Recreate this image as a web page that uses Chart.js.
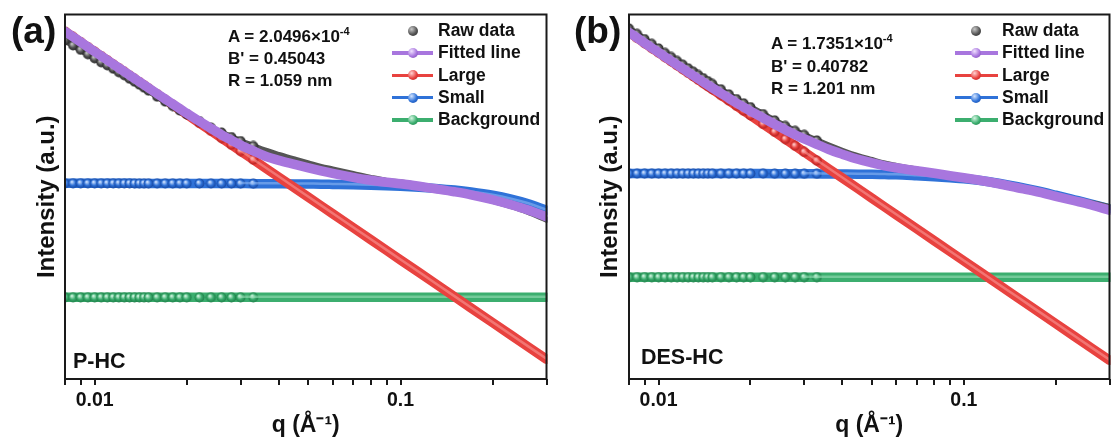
<!DOCTYPE html>
<html>
<head>
<meta charset="utf-8">
<script src="https://cdn.jsdelivr.net/npm/chart.js@4.4.0/dist/chart.umd.min.js"></script>
<style>
  body { margin: 0; background: #fff; width: 1113px; height: 448px; overflow: hidden; position: relative;
         font-family: 'Liberation Sans', Arial, sans-serif; font-weight: bold; color: #111; }
  canvas { position: absolute; top: 0; }
  #chartA { left: 0; }
  #chartB { left: 556px; }
  .t { position: absolute; white-space: nowrap; line-height: 1; }
  .t sup { font-size: 11px; vertical-align: 7px; line-height: 0; }
  .lg { position: absolute; }
  .ball { position: absolute; width: 10px; height: 10px; border-radius: 50%; }
</style>
</head>
<body>
<canvas id="chartA" width="556" height="448"></canvas>
<canvas id="chartB" width="557" height="448"></canvas>

<div class="t" style="left:11px;top:12px;font-size:37px">(a)</div>
<div class="t" style="left:574px;top:12px;font-size:37px">(b)</div>

<div class="t" style="left:228px;top:27.5px;font-size:17px">A = 2.0496×10<sup>-4</sup></div>
<div class="t" style="left:228px;top:49.5px;font-size:17px">B' = 0.45043</div>
<div class="t" style="left:228px;top:71.5px;font-size:17px">R = 1.059 nm</div>

<div class="t" style="left:771px;top:35px;font-size:17px">A = 1.7351×10<sup>-4</sup></div>
<div class="t" style="left:771px;top:57.5px;font-size:17px">B' = 0.40782</div>
<div class="t" style="left:771px;top:80px;font-size:17px">R = 1.201 nm</div>

<div class="t" style="left:73px;top:351px;font-size:21.5px">P-HC</div>
<div class="t" style="left:641px;top:347px;font-size:21.5px">DES-HC</div>

<div id="legends"></div>

<script>
// q (1/Å) sample positions shared by every curve
const qValues = [0.008, 0.0085, 0.009, 0.0095, 0.010, 0.0105, 0.011, 0.0115, 0.012, 0.0125,
  0.013, 0.0135, 0.014, 0.0145, 0.015, 0.016, 0.017, 0.018, 0.019, 0.020,
  0.022, 0.024, 0.026, 0.028, 0.030, 0.033, 0.036, 0.040, 0.045, 0.050,
  0.055, 0.060, 0.070, 0.080, 0.090, 0.100, 0.115, 0.130, 0.150, 0.170,
  0.200, 0.230, 0.260, 0.300];

const xTickValues = [0.008, 0.009, 0.01, 0.02, 0.03, 0.04, 0.05, 0.06, 0.07, 0.08, 0.09, 0.1, 0.2, 0.3];
const xTickLabels = ['', '', '0.01', '', '', '', '', '', '', '', '', '0.1', '', ''];
const seriesNames = ['Raw data', 'Fitted line', 'Large', 'Small', 'Background'];

// (a) P-HC, intensity in arbitrary units
const rawA = [3.18e6, 2.55e6, 2.09e6, 1.72e6, 1.44e6, 1.206e6, 1.057e6, 9.06e5, 7.77e5, 6.81e5,
  5.83e5, 5.11e5, 4.48e5, 3.92e5, 3.44e5, 2.64e5, 2.12e5, 1.74e5, 1.426e5, 1.222e5,
  8.98e4, 6.74e4, 5.41e4, 4.44e4, 3.72e4, 2.99e4, 2.45e4, 2.01e4, 1.648e4, 1.382e4,
  1.184e4, 1.061e4, 8700, 7300, 6390, 5980, 5240, 4600, 3940, 3380,
  2650, 2080, 1630, 1150];
const fitA = [4.73e6, 3.71e6, 2.96e6, 2.38e6, 1.94e6, 1.60e6, 1.33e6, 1.115e6, 9.4e5, 8.0e5,
  6.85e5, 5.9e5, 5.1e5, 4.45e5, 3.9e5, 3.02e5, 2.38e5, 1.91e5, 1.55e5, 1.27e5,
  8.9e4, 6.5e4, 4.9e4, 3.85e4, 3.1e4, 2.4e4, 1.92e4, 1.576e4, 1.322e4, 1.133e4,
  9930, 8890, 7460, 6540, 5980, 5600, 5020, 4500, 3940, 3450,
  2770, 2220, 1780, 1310];
const largeA = [4.72e6, 3.70e6, 2.95e6, 2.37e6, 1.93e6, 1.59e6, 1.32e6, 1.105e6, 9.32e5, 7.92e5,
  6.77e5, 5.82e5, 5.03e5, 4.37e5, 3.82e5, 2.95e5, 2.31e5, 1.84e5, 1.48e5, 1.21e5,
  8.25e4, 5.83e4, 4.23e4, 3.15e4, 2.39e4, 1.63e4, 1.15e4, 7550, 4710, 3090,
  2110, 1490, 805, 472, 295, 193, 111, 67.7, 38.2, 23.1,
  12.1, 6.91, 4.23, 2.39];
const smallA = [5730, 5730, 5730, 5720, 5720, 5720, 5720, 5720, 5720, 5720,
  5720, 5710, 5710, 5710, 5710, 5710, 5710, 5700, 5700, 5700,
  5690, 5690, 5680, 5670, 5660, 5650, 5630, 5610, 5580, 5540,
  5510, 5460, 5370, 5270, 5150, 5020, 4810, 4580, 4260, 3910,
  3380, 2840, 2340, 1740];
const bgA = [37, 37, 37, 37, 37, 37, 37, 37, 37, 37, 37, 37, 37, 37, 37, 37, 37, 37, 37, 37, 37, 37,
  37, 37, 37, 37, 37, 37, 37, 37, 37, 37, 37, 37, 37, 37, 37, 37, 37, 37, 37, 37, 37, 37];

// (b) DES-HC
const rawB = [5.40e6, 4.25e6, 3.38e6, 2.73e6, 2.23e6, 1.83e6, 1.53e6, 1.285e6, 1.089e6, 9.28e5,
  7.97e5, 6.9e5, 6.01e5, 5.26e5, 4.64e5, 3.67e5, 2.93e5, 2.38e5, 1.975e5, 1.666e5,
  1.226e5, 9.28e4, 7.26e4, 5.83e4, 4.88e4, 3.82e4, 3.07e4, 2.42e4, 1.906e4, 1.605e4,
  1.380e4, 1.241e4, 1.057e4, 9200, 8000, 7170, 6150, 5340, 4470, 3920,
  3230, 2760, 2400, 2000];
const fitB = [4.54e6, 3.57e6, 2.84e6, 2.29e6, 1.87e6, 1.54e6, 1.285e6, 1.08e6, 9.15e5, 7.8e5,
  6.7e5, 5.8e5, 5.05e5, 4.42e5, 3.9e5, 3.08e5, 2.46e5, 2.0e5, 1.66e5, 1.40e5,
  1.03e5, 7.8e4, 6.1e4, 4.9e4, 4.1e4, 3.21e4, 2.58e4, 2.07e4, 1.657e4, 1.420e4,
  1.243e4, 1.139e4, 9970, 8930, 8000, 7320, 6410, 5620, 4710, 4040,
  3230, 2650, 2220, 1740];
const largeB = [4.52e6, 3.55e6, 2.82e6, 2.27e6, 1.85e6, 1.52e6, 1.265e6, 1.059e6, 8.93e5, 7.58e5,
  6.48e5, 5.57e5, 4.82e5, 4.19e5, 3.66e5, 2.83e5, 2.22e5, 1.76e5, 1.42e5, 1.157e5,
  7.90e4, 5.58e4, 4.05e4, 3.01e4, 2.29e4, 1.56e4, 1.10e4, 7230, 4520, 2960,
  2020, 1430, 771, 452, 282, 185, 106, 64.8, 36.6, 22.2,
  11.6, 6.62, 4.05, 2.29];
const smallB = [8810, 8810, 8810, 8810, 8810, 8810, 8810, 8810, 8810, 8810,
  8810, 8810, 8810, 8810, 8810, 8810, 8810, 8810, 8810, 8810,
  8800, 8790, 8770, 8760, 8740, 8700, 8660, 8620, 8570, 8510,
  8430, 8360, 8000, 7650, 7320, 7000, 6420, 5740, 4920, 4220,
  3380, 2770, 2320, 1860];
const bgB = [90.4, 90.4, 90.4, 90.4, 90.4, 90.4, 90.4, 90.4, 90.4, 90.4, 90.4, 90.4, 90.4, 90.4, 90.4,
  90.4, 90.4, 90.4, 90.4, 90.4, 90.4, 90.4, 90.4, 90.4, 90.4, 90.4, 90.4, 90.4, 90.4, 90.4,
  90.4, 90.4, 90.4, 90.4, 90.4, 90.4, 90.4, 90.4, 90.4, 90.4, 90.4, 90.4, 90.4, 90.4];

// colours: [highlight, body, shadow, tube shine]
const palette = {
  raw:   ['#c8c8c8', '#555555', '#262626', null],
  fit:   ['#efe0ff', '#a876de', '#7a48b0', null],
  large: ['#ffd2d2', '#e8423f', '#b01e1e', 'rgba(250,160,158,0.55)'],
  small: ['#d2e4ff', '#2f72d8', '#1546a0', 'rgba(150,190,245,0.55)'],
  bg:    ['#d4f5e2', '#3cae6f', '#1d7d47', 'rgba(160,225,188,0.55)']
};
const FONT = "'Liberation Sans', Arial, sans-serif";
const BALL_LAST = 25;   // beyond this index the balls merge into a tube

// little shaded ball used as point style
function sphere(c) {
  var r = 4.9;
  var cv = document.createElement('canvas');
  cv.width = cv.height = 11;
  var ctx = cv.getContext('2d');
  var g = ctx.createRadialGradient(5.5 - 1.4, 5.5 - 1.6, 0.4, 5.5, 5.5, r);
  g.addColorStop(0, c[0]);
  g.addColorStop(0.55, c[1]);
  g.addColorStop(1, c[2]);
  ctx.fillStyle = g;
  ctx.beginPath();
  ctx.arc(5.5, 5.5, r, 0, Math.PI * 2);
  ctx.fill();
  return cv;
}

const frame = {
  id: 'frame',
  afterDatasetsDraw(chart) {
    var a = chart.chartArea, ctx = chart.ctx;
    ctx.save();
    ctx.strokeStyle = '#1a1a1a';
    ctx.lineWidth = 2;
    ctx.strokeRect(a.left, a.top, a.right - a.left, a.bottom - a.top);
    ctx.restore();
  }
};

// thin light stripe along the thick lines so they look like tubes
const tubeShine = {
  id: 'tubeShine',
  afterDatasetDraw(chart, args) {
    var ds = chart.data.datasets[args.index];
    if (!ds.shine) return;
    var a = chart.chartArea, ctx = chart.ctx, line = args.meta.dataset;
    var from = ds.shineFrom || 0;
    ctx.save();
    ctx.beginPath();
    ctx.rect(a.left, a.top, a.right - a.left, a.bottom - a.top);
    ctx.clip();
    ctx.translate(0, -0.5);
    ctx.beginPath();
    line.path(ctx, from, line.points.length - from);
    ctx.lineWidth = 2.5;
    ctx.lineCap = 'round';
    ctx.lineJoin = 'round';
    ctx.strokeStyle = ds.shine;
    ctx.stroke();
    ctx.restore();
  }
};

function pts(arr) {
  return qValues.map((q, i) => ({ x: q, y: arr[i] }));
}

function ballSeries(name, arr, c, order, width) {
  var img = sphere(c);
  return {
    label: name, data: pts(arr), order: order, borderColor: c[1], borderWidth: width,
    pointStyle: img, pointRadius: ctx => (ctx.dataIndex <= BALL_LAST ? 5 : 0),
    shine: c[3], shineFrom: BALL_LAST - 1
  };
}

function panelConfig(raw, fit, large, small, bg, geo) {
  var datasets = [
    ballSeries(seriesNames[0], raw, palette.raw, 2, 6),
    { label: seriesNames[1], data: pts(fit), order: 1, borderColor: palette.fit[1], borderWidth: 9.5,
      pointRadius: 0, cubicInterpolationMode: 'monotone' },
    ballSeries(seriesNames[2], large, palette.large, 3, 9.5),
    ballSeries(seriesNames[3], small, palette.small, 4, 9.5),
    ballSeries(seriesNames[4], bg, palette.bg, 5, 9.5)
  ];
  datasets[0].cubicInterpolationMode = 'monotone';
  datasets[3].cubicInterpolationMode = 'monotone';
  datasets.forEach(d => { d.borderCapStyle = 'round'; d.clip = 1; });

  return {
    type: 'line',
    data: { datasets: datasets },
    options: {
      responsive: false,
      animation: false,
      events: [],
      layout: { padding: { top: geo.top, right: 0, left: 0, bottom: 0 } },
      plugins: { legend: { display: false }, tooltip: { enabled: false } },
      scales: {
        x: {
          type: 'logarithmic', min: 0.008, max: 0.3,
          afterBuildTicks: s => { s.ticks = xTickValues.map(v => ({ value: v })); },
          afterFit: s => { s.height = 69; },
          ticks: { callback: (v, i) => xTickLabels[i], autoSkip: false, maxRotation: 0, padding: 4,
                   color: '#111', font: { family: FONT, size: 19.5, weight: 'bold' } },
          grid: { drawOnChartArea: false, tickLength: 6, color: '#1a1a1a', lineWidth: 2 },
          border: { display: false },
          title: { display: true, text: 'q (Å⁻¹)', color: '#111', padding: { top: 0, bottom: 9 },
                   font: { family: FONT, size: 23, weight: 'bold' } }
        },
        y: {
          type: 'logarithmic', min: 1, max: 1e7,
          afterFit: s => { s.width = geo.yw; },
          ticks: { display: false },
          grid: { display: false },
          border: { display: false },
          title: { display: true, text: 'Intensity (a.u.)', color: '#111', padding: { top: geo.tpad, bottom: 0 },
                   font: { family: FONT, size: 24, weight: 'bold' } }
        }
      }
    },
    plugins: [tubeShine, frame]
  };
}

// build the panel, then widen the canvas so the plot box ends where the original one does
function makePanel(id, raw, fit, large, small, bg, geo) {
  var cv = document.getElementById(id);
  var chart = new Chart(cv, panelConfig(raw, fit, large, small, bg, geo));
  var delta = Math.round(geo.right - chart.chartArea.right);
  if (delta !== 0) {
    var w = chart.width + delta;
    chart.destroy();
    cv.width = w;
    chart = new Chart(cv, panelConfig(raw, fit, large, small, bg, geo));
  }
  return chart;
}

makePanel('chartA', rawA, fitA, largeA, smallA, bgA, { top: 13, right: 546, yw: 65, tpad: 32.5 });
makePanel('chartB', rawB, fitB, largeB, smallB, bgB, { top: 14, right: 553, yw: 73, tpad: 39.5 });

// legends (line sample + ball, like the original)
function ballCss(c) {
  return 'background: radial-gradient(circle at 36% 32%, ' + c[0] + ' 0, ' + c[1] + ' 55%, ' + c[2] + ' 100%);';
}
var rows = [30.7, 53, 75.3, 97.6, 120];
var keys = ['raw', 'fit', 'large', 'small', 'bg'];
var html = '';
[{ lineL: 392, lineW: 41, ball: 413, text: 438 }, { lineL: 955, lineW: 43, ball: 976, text: 1002 }].forEach(p => {
  keys.forEach((k, i) => {
    var c = palette[k], y = rows[i];
    if (k !== 'raw') {
      html += '<div class="lg" style="left:' + p.lineL + 'px;top:' + (y - 1.75) + 'px;width:' + p.lineW +
              'px;height:3.5px;background:' + c[1] + '"></div>';
    }
    html += '<div class="ball" style="left:' + (p.ball - 5) + 'px;top:' + (y - 5) + 'px;' + ballCss(c) + '"></div>';
    html += '<div class="t" style="left:' + p.text + 'px;top:' + (y - 8.75) + 'px;font-size:17.5px">' + seriesNames[i] + '</div>';
  });
});
document.getElementById('legends').innerHTML = html;
</script>
</body>
</html>
